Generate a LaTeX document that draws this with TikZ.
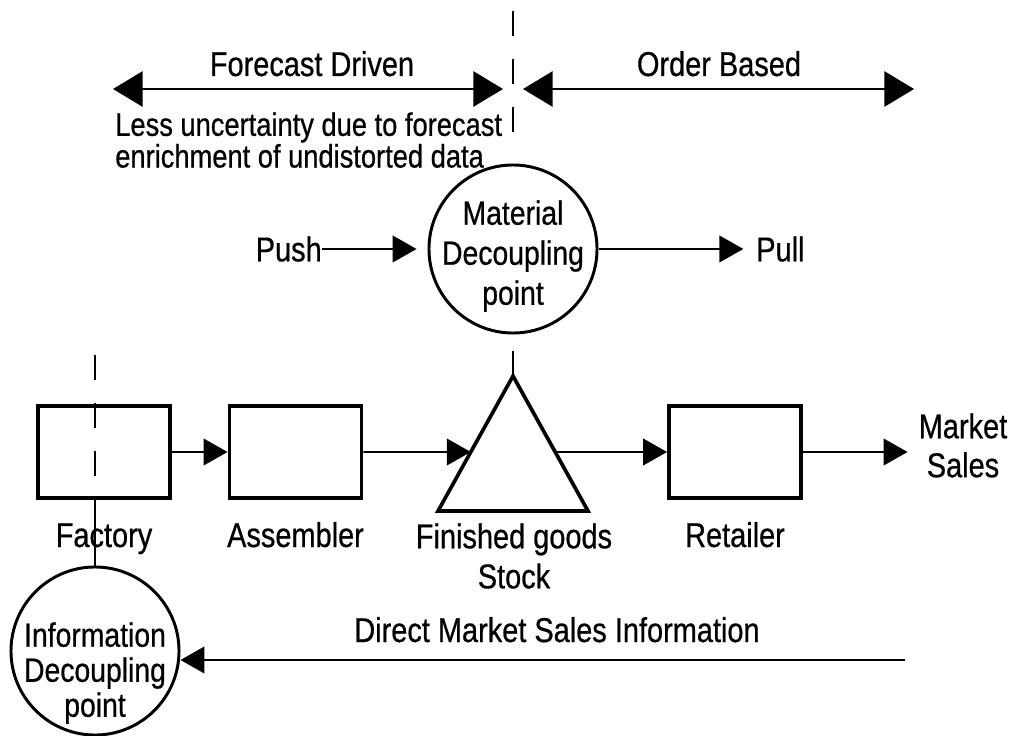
\documentclass[tikz,border=0pt]{standalone}
\usepackage{fontspec}
\setmainfont{Liberation Sans}[FakeStretch=0.84, FakeBold=0.6]
\usetikzlibrary{arrows.meta,positioning}
\tikzset{
  box/.style={draw, line width=2.5pt, minimum width=3.31cm, minimum height=2.31cm, inner sep=0pt},
  decouple/.style={draw, circle, line width=2.1pt, minimum size=4.2cm, inner sep=0pt},
  lbl/.style={inner sep=0pt, font=\fontsize{24.5}{28.5}\selectfont},
  flow/.style={-{Triangle[length=17pt,width=19pt]}, line width=1.1pt},
  span/.style={{Triangle[length=21pt,width=25pt]}-{Triangle[length=21pt,width=25pt]}, line width=1.3pt},
  cut/.style={line width=1.1pt, dash pattern=on 18pt off 16pt},
}
\begin{document}
\begin{tikzpicture}[x=0.025cm, y=-0.025cm]
  \useasboundingbox (0,0) rectangle (1019,736);
  \node[box] (factory) at (104,452) {};
  \node[box] (asm) at (295.5,452) {};
  \node[box] (retail) at (735,452) {};
  \draw[line width=2.6pt]
    (513,376) coordinate (apex) -- (438,511) coordinate (bl)
    -- (588,511) coordinate (br) -- cycle;
  \path (apex) -- (bl) coordinate[pos=0.563] (stockin);
  \path (apex) -- (br) coordinate[pos=0.563] (stockout);
  \node[decouple] (mat) at (513,249) {};
  \node[decouple] (info) at (95,651) {};

  \node[lbl, anchor=north, align=center, font=\fontsize{24}{28.45}\selectfont] (matl) at (513,200) {Material\\Decoupling\\point};
  \node[lbl, anchor=north, align=center, font=\fontsize{24}{24.9}\selectfont] (infol) at (95,622) {Information\\Decoupling\\point};
  \node[lbl, anchor=base] (factoryl) at (104,547) {Factory};
  \node[lbl, anchor=base] (asml) at (295.5,547) {Assembler};
  \node[lbl, anchor=north, align=center] (stockl) at (514,523) {Finished goods\\Stock};
  \node[lbl, anchor=base] (retaill) at (735,547) {Retailer};
  \node[lbl, anchor=north, align=center, font=\fontsize{24.5}{27.7}\selectfont] (mkt) at (963,413) {Market\\Sales};
  \node[lbl, anchor=east] (push) at (322,249) {Push};
  \node[lbl, anchor=west] (pull) at (756,249) {Pull};
  \node[lbl, anchor=base] (fcl) at (312,76) {Forecast Driven};
  \node[lbl, anchor=base] (obl) at (719,76) {Order Based};
  \node[lbl, anchor=north west, align=left, font=\fontsize{23.1}{19.9}\selectfont] (less) at (115,112)
    {Less uncertainty due to forecast\\enrichment of undistorted data};
  \node[lbl, anchor=base] (dmsi) at (557,642) {Direct Market Sales Information};

  \coordinate (fcL) at (113,89);
  \coordinate (fcR) at (503,89);
  \coordinate (obL) at (523,89);
  \coordinate (obR) at (914,89);
  \coordinate (cutTop) at (513,11);
  \coordinate (cutFac) at (95,355);
  \coordinate (mktInfo) at (905,660);

  \draw[span] (fcL) -- (fcR);
  \draw[span] (obL) -- (obR);
  \draw[cut, shorten >=7pt] (cutTop) -- (mat);
  \draw[line width=1.1pt, shorten <=11.4pt] (mat) -- (apex);
  \draw[cut] (cutFac) -- (cutFac |- factory.south);
  \draw[line width=1.1pt] (cutFac |- factory.south) -- (info);
  \draw[flow, shorten >=7.8pt] (push) -- (mat);
  \draw[flow, shorten >=9pt] (mat) -- (pull);
  \draw[flow] (factory) -- (asm);
  \draw[flow] (asm) -- (stockin);
  \draw[flow] (stockout) -- (retail);
  \draw[flow, shorten >=7.8pt] (retail.east) -- (retail.east -| mkt.west);
  \draw[flow] (mktInfo) -- (mktInfo -| info.east);
\end{tikzpicture}
\end{document}
